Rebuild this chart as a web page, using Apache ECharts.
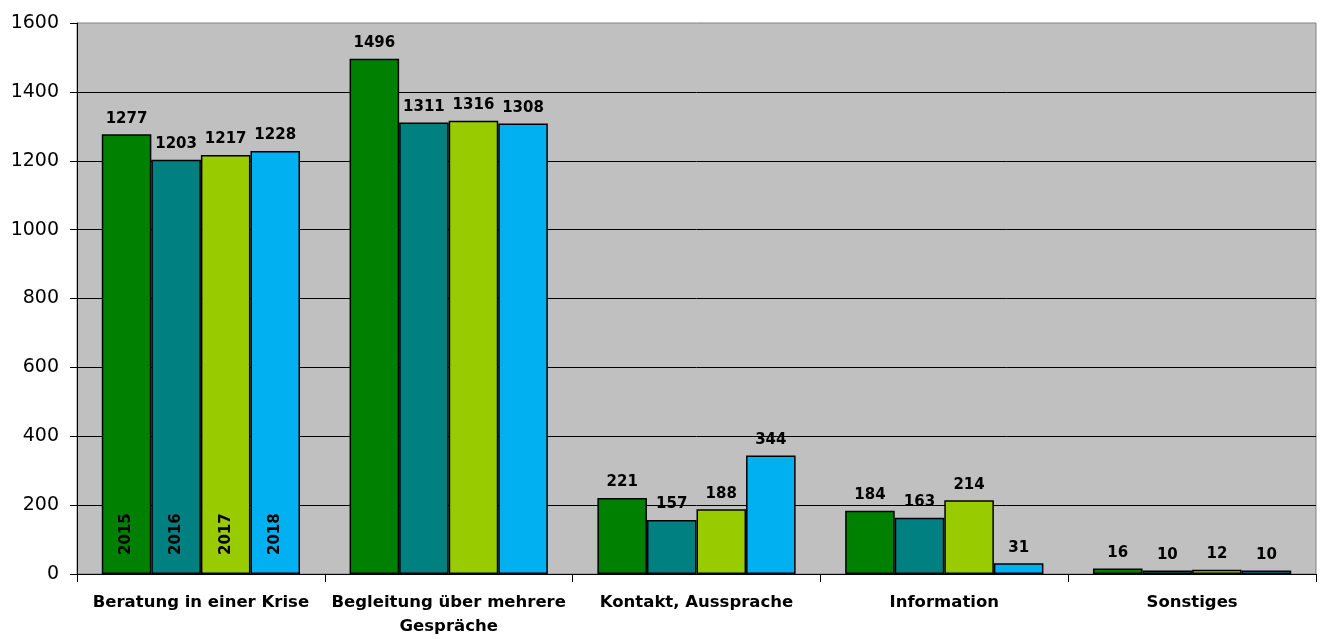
<!DOCTYPE html>
<html>
<head>
<meta charset="utf-8">
<script src="https://cdn.jsdelivr.net/npm/echarts@6/dist/echarts.min.js"></script>
<style>
html,body{margin:0;padding:0;background:#fff;}
#main{width:1322px;height:639px;}
</style>
</head>
<body>
<div id="main"></div>
<script>
const categories = ["Beratung in einer Krise", "Begleitung über mehrere\nGespräche", "Kontakt, Aussprache", "Information", "Sonstiges"];
const years = ["2015", "2016", "2017", "2018"];
const values2015 = [1277, 1496, 221, 184, 16];
const values2016 = [1203, 1311, 157, 163, 10];
const values2017 = [1217, 1316, 188, 214, 12];
const values2018 = [1228, 1308, 344, 31, 10];
const yTicks = [0, 200, 400, 600, 800, 1000, 1200, 1400, 1600];

const colors = ["#008000", "#008080", "#99CC00", "#00B0F0"];
const seriesValues = [values2015, values2016, values2017, values2018];
const FONT = "DejaVu Sans";

const series = [];
years.forEach((yr, i) => {
  // zero-height helper bar carrying the year label at the base of the first group
  series.push({
    name: yr + "-label",
    type: "bar",
    stack: "s" + i,
    silent: true,
    itemStyle: { color: "transparent", borderWidth: 0 },
    label: { show: false },
    data: categories.map((c, j) => j === 0 ? {
      value: 0,
      label: {
        show: true,
        formatter: yr,
        position: "insideBottom",
        distance: 19,
        rotate: 90,
        align: "left",
        verticalAlign: "middle",
        color: "#000",
        fontFamily: FONT,
        fontWeight: "bold",
        fontSize: 15
      }
    } : 0)
  });
  series.push({
    name: yr,
    type: "bar",
    stack: "s" + i,
    barGap: "0%",
    barCategoryGap: "20%",
    itemStyle: { color: colors[i], borderColor: "#000", borderWidth: 1.5 },
    label: {
      show: true,
      position: "top",
      distance: 8,
      color: "#000",
      fontFamily: FONT,
      fontWeight: "bold",
      fontSize: 15
    },
    data: seriesValues[i]
  });
});

const chart = echarts.init(document.getElementById("main"));
chart.setOption({
  animation: false,
  backgroundColor: "#fff",
  grid: {
    left: 77, right: 6, top: 23, bottom: 63,
    show: true, backgroundColor: "#C0C0C0", borderColor: "#808080", borderWidth: 1
  },
  xAxis: {
    type: "category",
    data: categories,
    axisLine: { show: true, lineStyle: { color: "#000", width: 1 } },
    axisTick: { show: true, alignWithLabel: false, length: 8, lineStyle: { color: "#000" } },
    axisLabel: {
      color: "#000", fontFamily: FONT, fontWeight: "bold", fontSize: 16.5,
      margin: 17, lineHeight: 24, interval: 0
    }
  },
  yAxis: {
    type: "value",
    min: yTicks[0],
    max: yTicks[yTicks.length - 1],
    interval: yTicks[1] - yTicks[0],
    axisLine: { show: true, lineStyle: { color: "#000", width: 1 } },
    axisTick: { show: true, length: 7, lineStyle: { color: "#000" } },
    axisLabel: { color: "#000", fontFamily: FONT, fontSize: 19, margin: 18, formatter: v => String(v) },
    splitLine: { show: true, showMaxLine: false, lineStyle: { color: "#000", width: 1 } }
  },
  series: series
});
</script>
</body>
</html>
